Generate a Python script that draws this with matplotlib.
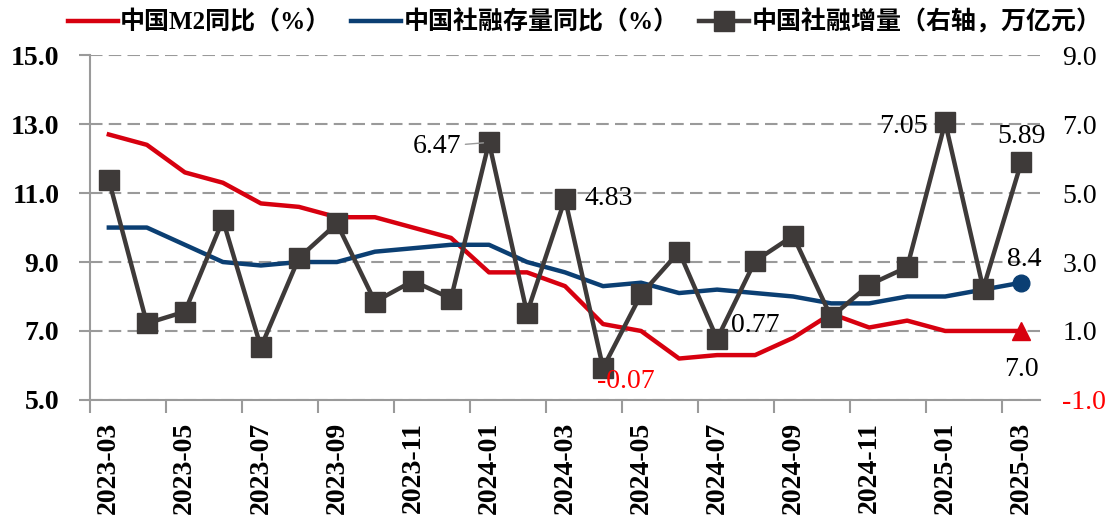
import matplotlib.pyplot as plt
import numpy as np

months = ['2023-03', '2023-04', '2023-05', '2023-06', '2023-07', '2023-08', '2023-09',
          '2023-10', '2023-11', '2023-12', '2024-01', '2024-02', '2024-03', '2024-04',
          '2024-05', '2024-06', '2024-07', '2024-08', '2024-09', '2024-10', '2024-11',
          '2024-12', '2025-01', '2025-02', '2025-03']
m2_yoy = [12.7, 12.4, 11.6, 11.3, 10.7, 10.6, 10.3, 10.3, 10.0, 9.7, 8.7, 8.7, 8.3, 7.2,
          7.0, 6.2, 6.3, 6.3, 6.8, 7.5, 7.1, 7.3, 7.0, 7.0, 7.0]
tsf_stock_yoy = [10.0, 10.0, 9.5, 9.0, 8.9, 9.0, 9.0, 9.3, 9.4, 9.5, 9.5, 9.0, 8.7, 8.3,
                 8.4, 8.1, 8.2, 8.1, 8.0, 7.8, 7.8, 8.0, 8.0, 8.2, 8.4]
tsf_flow = [5.38, 1.22, 1.56, 4.22, 0.53, 3.12, 4.12, 1.85, 2.45, 1.94, 6.47, 1.52, 4.83,
            -0.07, 2.06, 3.30, 0.77, 3.03, 3.76, 1.40, 2.34, 2.85, 7.05, 2.23, 5.89]

RED = '#D7000F'
BLUE = '#0B3F73'
GRAY = '#3E3A39'
GRID = '#9A9A9A'

plt.rcParams['font.family'] = ['Liberation Serif', 'Noto Sans CJK SC']

fig = plt.figure(figsize=(11.09, 5.16), dpi=100)
ax = fig.add_axes([0.081, 0.225, 0.857, 0.668])
ax2 = ax.twinx()

x = np.arange(len(months))

ax.plot(x, m2_yoy, color=RED, lw=3.2, label='中国M2同比（%）', zorder=3)
ax.plot(x, tsf_stock_yoy, color=BLUE, lw=3.2, label='中国社融存量同比（%）', zorder=3)
ax.plot(x[-1], m2_yoy[-1], marker='^', ms=13, color=RED, zorder=4)
ax.plot(x[-1], tsf_stock_yoy[-1], marker='o', ms=12, color=BLUE, zorder=4)
ax2.plot(x, tsf_flow, color=GRAY, lw=3.2, marker='s', ms=15, label='中国社融增量（右轴，万亿元）')

ax.set_xlim(-0.5, len(months) - 0.5)
ax.set_ylim(5, 15)
ax.set_yticks(np.arange(5, 15.1, 2))
ax.set_yticklabels([f'{v:.1f}' for v in np.arange(5, 15.1, 2)], fontweight='bold')
ax2.set_ylim(-1, 9)
ax2.set_yticks(np.arange(-1, 9.1, 2))
ax2.set_yticklabels([f'{v:.1f}' for v in np.arange(-1, 9.1, 2)])
ax2.get_yticklabels()[0].set_color('red')

ax.set_xticks(x[::2])
ax.set_xticklabels(months[::2], rotation=90, fontsize=20, fontweight='bold')
ax.set_xticks(np.arange(-0.5, len(months) - 0.5, 2), minor=True)
ax.tick_params(axis='x', which='major', length=0, pad=16)
ax.tick_params(axis='x', which='minor', length=9, width=1.5, color=GRID)
ax.tick_params(axis='y', length=8, width=1.5, color=GRID, labelsize=20, pad=14)
ax2.tick_params(axis='y', length=0, labelsize=20, pad=16)

ax.grid(axis='y', color=GRID, ls=(0, (6, 3)), lw=1.5)
ax.set_axisbelow(True)
for s in ['top', 'right']:
    ax.spines[s].set_visible(False)
for s in ['top', 'right', 'left', 'bottom']:
    ax2.spines[s].set_visible(False)
ax.spines['left'].set_color(GRID)
ax.spines['bottom'].set_color(GRID)
ax.spines['left'].set_linewidth(1.5)
ax.spines['bottom'].set_linewidth(1.5)

# data labels
fs = 20
ax2.annotate('6.47', xy=(10, 6.47), xytext=(-20, -3), textcoords='offset points',
             ha='right', va='center', fontsize=fs,
             arrowprops=dict(arrowstyle='-', color=GRID, lw=1, shrinkA=1, shrinkB=4))
ax2.annotate('4.83', xy=(12, 4.83), xytext=(14, 0), textcoords='offset points',
             ha='left', va='center', fontsize=fs)
ax2.annotate('-0.07', xy=(13, -0.07), xytext=(-4, -10), textcoords='offset points',
             ha='left', va='center', fontsize=fs, color='red')
ax2.annotate('0.77', xy=(16, 0.77), xytext=(10, 10), textcoords='offset points',
             ha='left', va='center', fontsize=fs)
ax2.annotate('7.05', xy=(22, 7.05), xytext=(-13, -3), textcoords='offset points',
             ha='right', va='center', fontsize=fs)
ax2.annotate('5.89', xy=(24, 5.89), xytext=(0, 19), textcoords='offset points',
             ha='center', va='center', fontsize=fs)
ax.annotate('8.4', xy=(24, 8.4), xytext=(2, 17), textcoords='offset points',
            ha='center', va='center', fontsize=fs)
ax.annotate('7.0', xy=(24, 7.0), xytext=(0, -28), textcoords='offset points',
            ha='center', va='center', fontsize=fs)

h1, l1 = ax.get_legend_handles_labels()
h2, l2 = ax2.get_legend_handles_labels()
fig.legend(h1 + h2, l1 + l2, loc='upper center', bbox_to_anchor=(0.527, 1.025), ncol=3,
           frameon=False, handlelength=2.0, handletextpad=0.1,
           columnspacing=0.8, prop={'size': 18, 'weight': 'bold'})

fig.savefig('out.png', dpi=100)
